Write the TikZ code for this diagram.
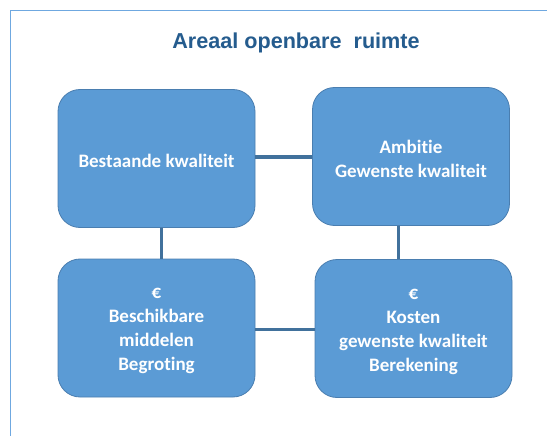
\documentclass[tikz,border=0pt]{standalone}
\usepackage{fontspec}
\setmainfont[Ligatures=NoCommon]{Carlito}
\newfontfamily\titlefont{Liberation Sans}
\definecolor{boxfill}{HTML}{5B9BD5}
\definecolor{boxedge}{HTML}{4A7EB0}
\definecolor{linkcol}{HTML}{41719C}
\definecolor{framecol}{HTML}{6FA8E0}
\definecolor{titlecol}{HTML}{255C8E}
\begin{document}
\begin{tikzpicture}[x=1pt,y=-1pt,
  qbox/.style={draw=boxedge, line width=0.8pt, fill=boxfill, rounded corners=22pt,
    minimum width=197pt, minimum height=138pt, text=white, align=center,
    font=\fontsize{19}{24}\selectfont\bfseries, inner sep=0pt},
  link/.style={draw=linkcol, line width=3pt}]
\useasboundingbox (0,0) rectangle (547,436);
\fill[white] (0,0) rectangle (547,436);
\draw[framecol, line width=1.2pt] (10.5,436) -- (10.5,10.5) -- (547,10.5);
\node[font=\titlefont\fontsize{21.6}{26}\selectfont\bfseries, text=titlecol, anchor=base] (title) at (296,49) {Areaal openbare\ \ ruimte};
\node[qbox, text depth=0pt] (bk) at (156.5,158.5) {};
\node[text=white, font=\fontsize{19}{24}\selectfont\bfseries] (bkt) at (bk.center) [yshift=-2pt] {Bestaande kwaliteit};
\node[qbox] (am) at (411,156.5) {};
\node[text=white, align=center, font=\fontsize{19}{24}\selectfont\bfseries] (amt) at (am.center) [yshift=-2pt] {Ambitie\\Gewenste kwaliteit};
\node[qbox] (bm) at (156.5,328) {};
\node[text=white, align=center, font=\fontsize{19}{24}\selectfont\bfseries] (bmt) at (bm.center) [yshift=-3pt] {€\\Beschikbare\\middelen\\Begroting};
\node[qbox] (ko) at (413.5,328.5) {};
\node[text=white, align=center, font=\fontsize{19}{24}\selectfont\bfseries] (kot) at (ko.center) [yshift=-3pt] {€\\Kosten\\gewenste kwaliteit\\Berekening};
\draw[link] (bk.east |- 0,157) -- (am.west |- 0,157);
\draw[link] (bm.east |- 0,329) -- (ko.west |- 0,329);
\draw[link] (bk.south -| 161,0) -- (bm.north -| 161,0);
\draw[link] (am.south -| 398,0) -- (ko.north -| 398,0);
\end{tikzpicture}
\end{document}
